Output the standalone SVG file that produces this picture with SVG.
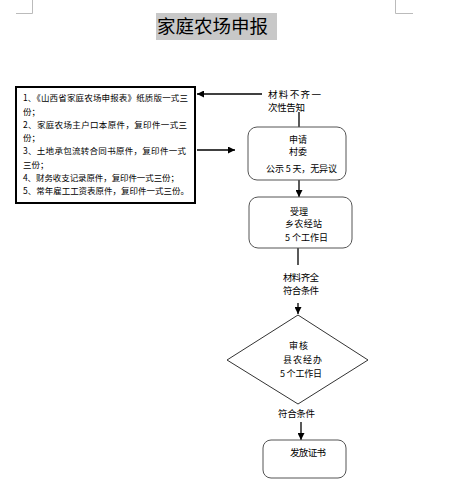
<svg xmlns="http://www.w3.org/2000/svg" width="461" height="500" viewBox="0 0 461 500">
<defs>
<marker id="ah" viewBox="0 0 10 10" refX="10" refY="5" markerWidth="7" markerHeight="7" markerUnits="userSpaceOnUse" orient="auto">
<path d="M0,0 L10,5 L0,10 z" fill="#000"/>
</marker>
</defs>
<style>
text{font-family:"Noto Sans CJK SC","Noto Sans",sans-serif;fill:#000}
.l{font-size:8.5px}
.r{font-size:9.5px}
.s{font-size:9px}
.t{font-size:18.5px}
.box{fill:#fff;stroke:#555;stroke-width:1}
.con{stroke:#000;stroke-width:1.3;fill:none}
.crop{stroke:#bbb;stroke-width:1;fill:none}
</style>
<rect width="461" height="500" fill="#fff"/>
<g id="cropmarks">
<path class="crop" d="M32.5,0 V13.5 H16"/>
<path class="crop" d="M395.5,0 V13.5 H413"/>
</g>
<g id="title">
<rect x="156" y="13" width="121" height="27" fill="#c8c8c8"/>
<text class="t" x="157" y="33" textLength="111">家庭农场申报</text>
</g>
<g id="connectors">
<path class="con" d="M299,127 V112"/>
<path class="con" d="M262,94 H197" marker-end="url(#ah)"/>
<path class="con" d="M197,150 H235" marker-end="url(#ah)"/>
<path class="con" d="M299,180 V197" marker-end="url(#ah)"/>
<path class="con" d="M298,248 V265"/>
<path class="con" d="M298,303 V314" marker-end="url(#ah)"/>
<path class="con" d="M301,422 V440" marker-end="url(#ah)"/>
</g>
<g id="materials">
<rect x="16" y="87" width="179" height="116" fill="#fff" stroke="#000" stroke-width="2"/>
<text class="l" x="23" y="101" textLength="165">1、《山西省家庭农场申报表》纸质版一式三</text>
<text class="l" x="23" y="115">份；</text>
<text class="l" x="23" y="128" textLength="164">2、家庭农场主户口本原件，复印件一式三</text>
<text class="l" x="23" y="141">份；</text>
<text class="l" x="23" y="154" textLength="163">3、土地承包流转合同书原件，复印件一式</text>
<text class="l" x="23" y="168">三份；</text>
<text class="l" x="23" y="181" textLength="156">4、财务收支记录原件，复印件一式三份；</text>
<text class="l" x="23" y="194" textLength="166">5、常年雇工工资表原件，复印件一式三份。</text>
</g>
<g id="label-incomplete">
<text class="r" x="268" y="98" textLength="53">材料不齐一</text>
<text class="r" x="268" y="111" textLength="37">次性告知</text>
</g>
<g id="apply">
<rect class="box" x="248" y="127" width="98" height="53" rx="9"/>
<text class="s" x="289" y="142.5" textLength="18">申请</text>
<text class="s" x="289" y="155" textLength="18">村委</text>
<text class="s" x="266" y="172" textLength="71">公示 5 天，无异议</text>
</g>
<g id="accept">
<rect class="box" x="249" y="197" width="103" height="51" rx="9"/>
<text class="s" x="290" y="214.5" textLength="18">受理</text>
<text class="s" x="285" y="227" textLength="37">乡农经站</text>
<text class="s" x="285" y="241" textLength="43">5 个工作日</text>
</g>
<g id="label-complete">
<text class="r" x="283" y="281" textLength="36">材料齐全</text>
<text class="r" x="283" y="294" textLength="36">符合条件</text>
</g>
<g id="review">
<path d="M298,315 L368,360 L298,404 L227,360 Z" fill="#fff" stroke="#333" stroke-width="1"/>
<text class="s" x="289" y="349" textLength="19">审核</text>
<text class="s" x="283" y="363" textLength="39">县农经办</text>
<text class="s" x="280" y="377" textLength="42">5 个工作日</text>
</g>
<g id="label-ok">
<text class="r" x="278" y="417" textLength="37">符合条件</text>
</g>
<g id="issue">
<rect class="box" x="263" y="440" width="83" height="38" rx="8"/>
<text class="r" x="290" y="456" textLength="36">发放证书</text>
</g>
</svg>
